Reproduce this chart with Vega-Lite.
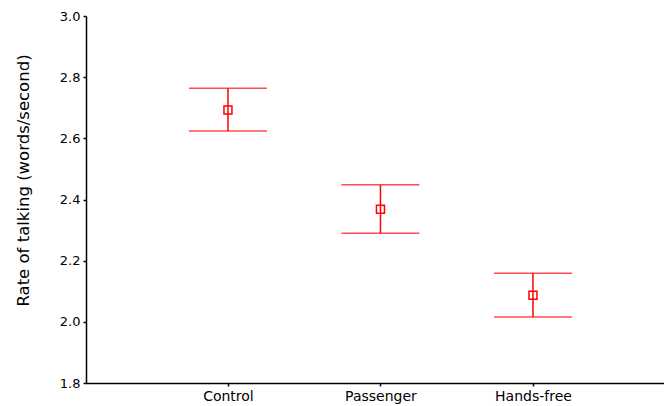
{
  "$schema": "https://vega.github.io/schema/vega-lite/v6.json",
  "autosize": "none",
  "width": 578,
  "height": 367,
  "padding": {"left": 86, "top": 16, "right": 0, "bottom": 23},
  "background": "white",
  "config": {
    "view": {"stroke": null},
    "font": "DejaVu Sans",
    "axis": {"grid": false, "domainColor": "black", "tickColor": "black", "labelColor": "black", "titleColor": "black", "domainWidth": 1.5, "tickWidth": 1.5, "tickSize": 3, "labelFont": "DejaVu Sans", "titleFont": "DejaVu Sans"}
  },
  "data": {
    "values": [
      {"group": "Control", "mean": 2.693, "lo": 2.624, "hi": 2.764},
      {"group": "Passenger", "mean": 2.368, "lo": 2.29, "hi": 2.448},
      {"group": "Hands-free", "mean": 2.087, "lo": 2.016, "hi": 2.159}
    ]
  },
  "encoding": {
    "x": {
      "field": "group", "type": "nominal", "sort": null,
      "scale": {"type": "point", "padding": 0.895, "align": 0.52},
      "axis": {"title": null, "labelAngle": 0, "labelFontSize": 14, "labelPadding": 3}
    }
  },
  "layer": [
    {
      "mark": {"type": "rule", "color": "red", "strokeWidth": 1.5},
      "encoding": {
        "y": {"field": "lo", "type": "quantitative", "scale": {"domain": [1.8, 3.0], "zero": false, "nice": false},
          "axis": {"values": [1.8, 2.0, 2.2, 2.4, 2.6, 2.8, 3.0], "format": ".1f", "labelFontSize": 13, "title": "Rate of talking (words/second)", "titleFontSize": 16.5, "titleFontWeight": "normal", "titlePadding": 28, "labelPadding": 3, "titleY": 164}},
        "y2": {"field": "hi"}
      }
    },
    {
      "mark": {"type": "tick", "color": "red", "size": 78, "thickness": 1.5},
      "encoding": {"y": {"field": "lo", "type": "quantitative"}}
    },
    {
      "mark": {"type": "tick", "color": "red", "size": 78, "thickness": 1.5},
      "encoding": {"y": {"field": "hi", "type": "quantitative"}}
    },
    {
      "mark": {"type": "point", "shape": "square", "filled": false, "color": "red", "size": 64, "strokeWidth": 1.5, "opacity": 1},
      "encoding": {"y": {"field": "mean", "type": "quantitative"}}
    }
  ]
}
